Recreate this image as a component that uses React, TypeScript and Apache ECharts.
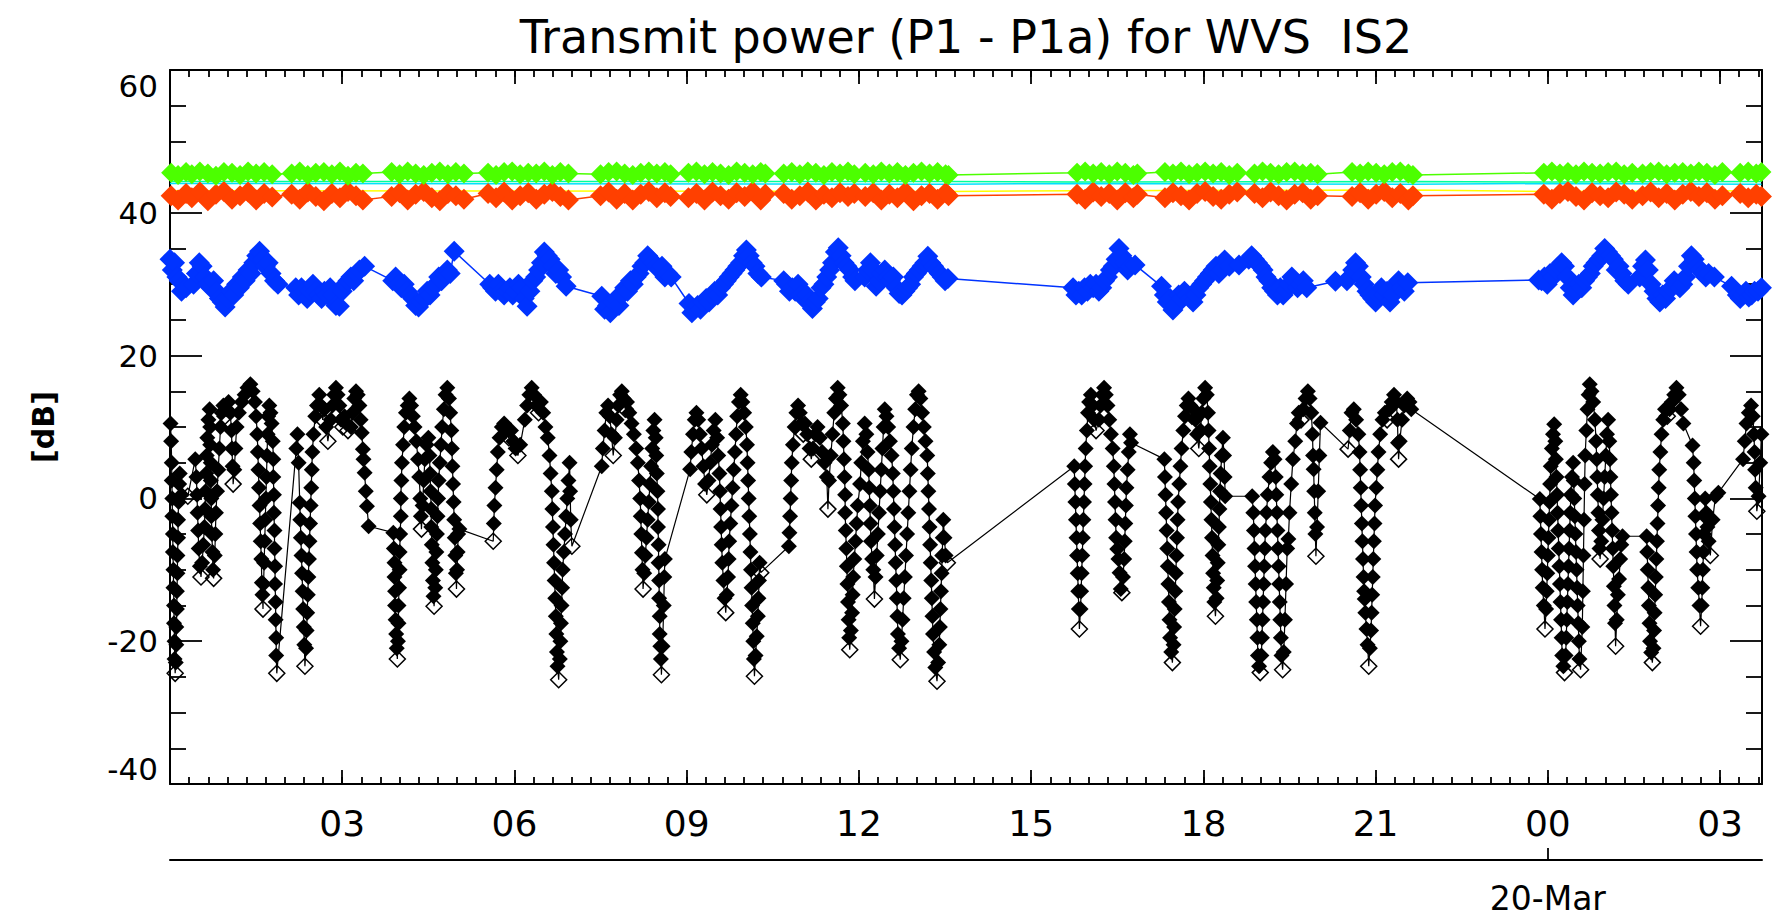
import React, { useEffect, useRef } from "react";
import * as echarts from "echarts";

// ---------- texts ----------
const TITLE = "Transmit power (P1 - P1a) for WVS  IS2";
const Y_NAME = "[dB]";
const DATE_LABEL = "20-Mar";

// ---------- axes (x in hours since 19-Mar 00:00) ----------
const X_MAX_H = 27.73;
const X_MAJOR_H = 3;
const X_MINOR_MIN = 20;
const DATE_TICK_H = 24;
const Y_MIN = -40;
const Y_MAX = 60;
const Y_STEP = 20;

// ---------- colours ----------
const C_BLACK = "#000000";
const C_BLUE = "#0033ff";
const C_GREEN = "#4cff00";
const C_RED = "#ff4000";
const C_YELLOW = "#ffff00";
const C_CYAN = "#00e0ff";
const C_MINT = "#00ff99";

// ---------- upper bands: shared sample times (h) ----------
const bandTimes = [
  0.02, 0.14, 0.28,
  0.38, 0.52, 0.66, 0.8, 0.94, 1.08, 1.22, 1.36, 1.5, 1.64, 1.78,
  2.12, 2.26, 2.4, 2.54, 2.68, 2.82, 2.96, 3.1, 3.24, 3.36,
  3.86, 4.0, 4.14, 4.28, 4.42, 4.56, 4.7, 4.84, 4.98, 5.12,
  5.54, 5.68, 5.82, 5.96, 6.1, 6.24, 6.38, 6.52, 6.66, 6.8, 6.94,
  7.5, 7.64, 7.78, 7.92, 8.06, 8.2, 8.34, 8.48, 8.62, 8.72,
  9.03, 9.17, 9.31, 9.45, 9.59, 9.73, 9.87, 10.01, 10.15, 10.29, 10.37,
  10.69, 10.83, 10.97, 11.11, 11.25, 11.39, 11.53, 11.67, 11.81, 11.92,
  12.11, 12.25, 12.39, 12.53, 12.67, 12.81, 12.95, 13.09, 13.23, 13.37, 13.51, 13.56,
  15.8, 15.94, 16.08, 16.22, 16.36, 16.5, 16.64, 16.78, 16.85,
  17.33, 17.47, 17.61, 17.75, 17.89, 18.03, 18.17, 18.31, 18.45, 18.59,
  18.89, 19.03, 19.17, 19.31, 19.45, 19.59, 19.73, 19.87, 19.99,
  20.59, 20.73, 20.87, 21.01, 21.15, 21.29, 21.43, 21.57, 21.65,
  23.93, 24.07, 24.21, 24.35, 24.49, 24.63, 24.77, 24.91, 25.05, 25.19, 25.33, 25.47,
  25.65, 25.79, 25.93, 26.07, 26.21, 26.35, 26.49, 26.63, 26.77, 26.91, 27.04,
  27.35, 27.49, 27.63, 27.72,
];

const greenVals = [
  45.6, 45.3, 45.7,
  45.4, 45.8, 45.5, 45.2, 45.7, 45.6, 45.3, 45.8, 45.5, 45.7, 45.4,
  45.5, 45.8, 45.3, 45.6, 45.7, 45.4, 45.8, 45.2, 45.6, 45.5,
  45.7, 45.4, 45.8, 45.5, 45.3, 45.6, 45.8, 45.4, 45.7, 45.5,
  45.6, 45.3, 45.7, 45.8, 45.4, 45.6, 45.5, 45.8, 45.3, 45.7, 45.5,
  45.4, 45.7, 45.8, 45.5, 45.3, 45.6, 45.8, 45.5, 45.7, 45.4,
  45.6, 45.8, 45.4, 45.7, 45.5, 45.3, 45.8, 45.6, 45.4, 45.7, 45.5,
  45.5, 45.7, 45.4, 45.8, 45.6, 45.3, 45.7, 45.5, 45.8, 45.4,
  45.6, 45.4, 45.8, 45.5, 45.7, 45.3, 45.6, 45.8, 45.5, 45.7, 45.4, 45.3,
  45.6, 45.8, 45.5, 45.7, 45.4, 45.8, 45.6, 45.3, 45.5,
  45.7, 45.5, 45.8, 45.4, 45.6, 45.8, 45.5, 45.7, 45.3, 45.6,
  45.5, 45.8, 45.6, 45.4, 45.7, 45.8, 45.5, 45.6, 45.4,
  45.7, 45.5, 45.8, 45.6, 45.4, 45.7, 45.8, 45.5, 45.3,
  45.6, 45.8, 45.5, 45.7, 45.4, 45.8, 45.6, 45.5, 45.7, 45.8, 45.4, 45.6,
  45.5, 45.7, 45.8, 45.4, 45.6, 45.7, 45.5, 45.8, 45.6, 45.3, 45.7,
  45.6, 45.8, 45.5, 45.7,
];

const redVals = [
  42.4, 41.8, 42.7,
  42.1, 42.9, 41.7, 42.6, 43.0, 41.9, 42.4, 42.9, 41.8, 42.7, 42.2,
  42.6, 41.9, 42.9, 42.3, 41.7, 42.7, 42.1, 43.0, 42.4, 41.8,
  42.3, 42.8, 41.8, 42.6, 43.0, 42.1, 41.7, 42.7, 42.4, 41.9,
  42.7, 42.1, 42.9, 41.8, 42.4, 42.8, 41.9, 42.6, 43.0, 42.3, 41.8,
  42.4, 42.9, 41.9, 42.7, 41.8, 42.6, 43.0, 42.1, 42.8, 42.3,
  42.1, 42.7, 41.8, 42.9, 42.4, 41.9, 42.8, 42.3, 43.0, 41.8, 42.6,
  42.7, 41.9, 42.4, 42.9, 41.8, 42.6, 42.1, 42.8, 42.3, 42.7,
  42.3, 42.8, 41.8, 42.6, 42.1, 42.9, 41.7, 42.4, 42.7, 41.9, 42.8, 42.4,
  42.6, 41.9, 42.9, 42.3, 42.7, 41.8, 42.8, 42.1, 42.6,
  42.1, 42.8, 42.4, 41.8, 42.7, 43.0, 42.3, 41.9, 42.6, 42.9,
  42.7, 42.1, 42.9, 42.4, 41.8, 42.6, 42.8, 41.9, 42.4,
  42.3, 42.8, 41.9, 42.6, 43.0, 42.1, 42.7, 41.8, 42.4,
  42.6, 41.9, 42.7, 43.0, 42.3, 41.8, 42.8, 42.4, 42.1, 42.9, 42.6, 41.9,
  42.4, 42.9, 42.1, 42.7, 41.8, 42.6, 43.0, 42.3, 42.8, 41.9, 42.4,
  42.7, 42.1, 42.6, 42.3,
];

// thin lines between the bands (markers hidden under the bands)
const cyanPts = [[0, 44.1], [13.56, 44.0], [15.8, 44.1], [21.65, 44.0], [23.93, 44.1], [27.72, 44.0]];
const mintPts = [[0, 44.4], [13.56, 44.4], [15.8, 44.3], [21.65, 44.4], [23.93, 44.3], [27.72, 44.4]];
const yellowPts = [[0, 43.1], [13.56, 43.0], [15.8, 43.1], [21.65, 43.2], [23.93, 43.0], [27.72, 43.1]];

// ---------- blue series [h, dB] ----------
const bluePts = [
  [0.0, 33.5], [0.04, 32], [0.08, 33], [0.12, 31], [0.16, 30.5], [0.2, 29], [0.24, 30], [0.28, 29.5],
  [0.41, 30], [0.46, 31.5], [0.51, 33], [0.56, 32.5], [0.61, 31], [0.66, 30], [0.71, 29.5], [0.76, 30.5], [0.81, 29], [0.86, 28], [0.91, 27.5], [0.96, 26.8], [1.01, 28], [1.06, 29], [1.11, 28.5], [1.16, 30], [1.21, 29.5], [1.26, 31], [1.31, 30.5], [1.36, 32], [1.41, 31.5], [1.46, 33], [1.51, 34], [1.56, 34.6], [1.61, 33.5], [1.66, 32.5], [1.71, 33], [1.76, 31.5], [1.82, 30.5], [1.88, 30],
  [2.19, 29.5], [2.24, 28.5], [2.29, 29.5], [2.34, 29], [2.39, 28], [2.44, 29], [2.49, 30], [2.54, 29], [2.59, 28.5], [2.64, 28], [2.69, 29], [2.74, 28.5], [2.79, 29.5], [2.84, 28.5], [2.89, 27], [2.95, 26.9], [3.0, 29], [3.05, 30], [3.1, 30.5], [3.15, 31], [3.2, 30.5], [3.25, 31.5], [3.3, 32], [3.39, 32.5],
  [3.88, 30.5], [3.93, 31], [3.98, 30], [4.03, 29.5], [4.08, 30], [4.13, 29], [4.18, 28.5], [4.23, 28], [4.28, 27], [4.33, 26.8], [4.38, 27.5], [4.43, 28], [4.48, 29], [4.53, 28.5], [4.58, 29.5], [4.63, 30], [4.68, 31], [4.73, 30.5], [4.78, 31.5], [4.83, 32], [4.88, 31.5], [4.95, 34.6],
  [5.57, 30], [5.62, 29.5], [5.67, 29], [5.72, 30], [5.77, 29], [5.82, 28.5], [5.87, 29], [5.92, 29.5], [5.97, 28.5], [6.02, 29], [6.07, 30], [6.12, 29.5], [6.17, 28], [6.22, 26.9], [6.27, 29], [6.32, 30.5], [6.37, 31], [6.42, 32], [6.47, 33], [6.52, 34.5], [6.57, 34], [6.62, 33.5], [6.67, 32.5], [6.72, 31.5], [6.77, 32], [6.82, 31], [6.9, 29.7],
  [7.52, 28.3], [7.57, 26.5], [7.62, 27], [7.67, 26], [7.72, 27.5], [7.77, 28], [7.82, 27], [7.87, 28.5], [7.92, 29.5], [7.97, 29], [8.02, 30.5], [8.07, 30], [8.12, 31], [8.17, 31.5], [8.22, 32.5], [8.27, 33], [8.32, 34], [8.37, 33.5], [8.42, 33], [8.47, 32.5], [8.52, 32], [8.57, 32.5], [8.62, 31], [8.67, 31.5], [8.73, 31],
  [9.04, 27.3], [9.09, 26], [9.14, 26.5], [9.19, 27], [9.24, 26.5], [9.29, 27.5], [9.34, 28], [9.39, 27.5], [9.44, 28.5], [9.49, 29], [9.54, 28.5], [9.59, 29.5], [9.64, 30], [9.69, 30.5], [9.74, 31], [9.79, 31.5], [9.84, 32], [9.89, 32.5], [9.94, 33], [9.99, 34], [10.04, 34.8], [10.09, 34], [10.14, 33], [10.19, 32.5], [10.24, 31.5], [10.3, 31],
  [10.69, 30.5], [10.74, 30], [10.79, 29], [10.84, 29.5], [10.89, 29], [10.94, 30], [10.99, 28.5], [11.04, 28], [11.09, 28.5], [11.14, 27.5], [11.19, 26.6], [11.24, 27.5], [11.29, 28], [11.34, 29.5], [11.39, 30], [11.44, 31], [11.49, 32], [11.54, 33], [11.59, 34.5], [11.64, 35.1], [11.69, 34], [11.74, 33], [11.79, 32.5], [11.84, 32], [11.89, 31], [11.93, 30.5],
  [12.1, 31], [12.15, 32], [12.2, 33], [12.25, 32], [12.3, 29.7], [12.35, 30.5], [12.4, 31.5], [12.45, 32], [12.5, 31], [12.55, 30.5], [12.6, 31], [12.65, 29.5], [12.7, 28.7], [12.75, 28.5], [12.8, 29], [12.85, 29.5], [12.9, 30], [12.95, 31], [13.0, 31.5], [13.05, 32], [13.1, 32.5], [13.15, 33], [13.2, 33.9], [13.25, 33], [13.3, 32.5], [13.35, 32], [13.4, 31.5], [13.45, 31], [13.5, 30.5], [13.55, 30.8],
  [15.73, 29.5], [15.78, 28.5], [15.83, 29], [15.88, 28.5], [15.93, 29.5], [15.98, 29], [16.03, 30], [16.08, 29.5], [16.13, 30], [16.18, 29], [16.23, 29.5], [16.28, 30.5], [16.33, 31], [16.38, 32], [16.43, 32.5], [16.48, 33.5], [16.53, 35], [16.58, 34], [16.63, 33], [16.68, 32], [16.73, 32.5], [16.81, 32.7],
  [17.27, 29.7], [17.32, 28.5], [17.37, 27.5], [17.42, 28], [17.47, 26.4], [17.52, 27], [17.57, 28.5], [17.62, 28], [17.67, 29], [17.72, 28.5], [17.77, 28], [17.82, 27.5], [17.87, 28.5], [17.92, 29.5], [17.97, 30], [18.02, 30.5], [18.07, 31], [18.12, 31.5], [18.17, 32], [18.22, 32.5], [18.27, 31.5], [18.32, 32], [18.37, 33.4], [18.45, 32.5],
  [18.62, 32.7], [18.79, 33.5], [18.84, 34], [18.89, 33.5], [18.94, 33], [18.99, 32.5], [19.04, 32], [19.09, 31], [19.14, 30.5], [19.19, 29.5], [19.24, 29], [19.29, 28.5], [19.34, 29.5], [19.39, 28.5], [19.44, 29.2], [19.49, 30], [19.54, 31], [19.59, 30.5], [19.64, 29.5], [19.69, 30], [19.74, 30.5], [19.8, 29.5],
  [20.3, 30.4], [20.5, 30.5], [20.55, 31], [20.6, 32], [20.65, 33], [20.7, 32.5], [20.75, 31], [20.8, 30], [20.85, 29], [20.9, 28.5], [20.95, 28], [21.0, 27.5], [21.05, 28.5], [21.1, 29.5], [21.15, 28.5], [21.2, 29], [21.25, 27.5], [21.3, 28.5], [21.35, 30], [21.4, 30.5], [21.45, 29.5], [21.5, 29], [21.56, 30.2],
  [23.84, 30.6], [23.89, 30.5], [23.94, 31], [23.99, 30], [24.04, 31.5], [24.09, 31], [24.14, 32], [24.19, 32.5], [24.24, 33], [24.29, 32.5], [24.34, 31], [24.39, 29.5], [24.44, 28.5], [24.49, 29], [24.54, 30], [24.59, 29.5], [24.64, 30.5], [24.69, 31], [24.74, 31.5], [24.79, 32.5], [24.84, 33], [24.89, 33.5], [24.94, 34], [24.99, 35], [25.04, 34.5], [25.09, 34], [25.14, 33.5], [25.19, 32], [25.24, 32.5], [25.29, 31.5], [25.34, 30.5], [25.4, 30],
  [25.6, 31], [25.65, 32.5], [25.7, 33.4], [25.75, 32], [25.8, 30], [25.85, 29], [25.9, 28], [25.95, 27.5], [26.0, 28.5], [26.05, 28], [26.1, 29], [26.15, 29.5], [26.2, 30.5], [26.25, 30], [26.3, 29.5], [26.35, 30], [26.4, 31], [26.45, 32.5], [26.5, 34], [26.55, 33.5], [26.6, 32.5], [26.65, 32], [26.7, 31.5], [26.75, 31], [26.8, 31.5], [26.9, 31],
  [27.2, 29.7], [27.3, 28.5], [27.35, 28], [27.4, 28.5], [27.45, 29], [27.5, 28.2], [27.55, 28.5], [27.6, 29], [27.66, 29], [27.72, 29.5],
];

// ---------- black series [h, dB] ----------
const blackPts = [
  [0.01, 10.5], [0.02, 8], [0.03, 5], [0.03, 2.5], [0.04, 0], [0.04, -2.5], [0.05, -5], [0.05, -7.5], [0.06, -10], [0.06, -12.5], [0.07, -15], [0.07, -17.5], [0.08, -20], [0.08, -22.5], [0.09, -24.5], [0.1, -23], [0.11, -20.5], [0.11, -18], [0.12, -15.5], [0.12, -13], [0.13, -10.5], [0.13, -8], [0.14, -5.5], [0.14, -3], [0.15, -0.5], [0.16, 2], [0.17, 3.5], [0.2, 0.5], [0.31, 0.3],
  [0.44, 5.5], [0.46, 3], [0.47, 0.5], [0.48, -2], [0.49, -4.5], [0.5, -7], [0.52, -9.5], [0.54, -11], [0.56, -9], [0.58, -6.5], [0.6, -4], [0.61, -1.5], [0.62, 1], [0.63, 3.5], [0.64, 6], [0.65, 8.5], [0.67, 11], [0.69, 12.5], [0.7, 10], [0.7, 7.5], [0.71, 5], [0.71, 2.5], [0.72, 0], [0.72, -2.5], [0.73, -5], [0.74, -7.5], [0.75, -10], [0.76, -11.2], [0.78, -8], [0.79, -5], [0.8, -2], [0.82, 1], [0.84, 4], [0.86, 7], [0.88, 10], [0.9, 12], [0.93, 13], [0.96, 11.5], [0.99, 12.5], [1.02, 13.5], [1.05, 12], [1.07, 9.5], [1.08, 7], [1.09, 4.5], [1.1, 2], [1.12, 4], [1.14, 7],
  [1.16, 10], [1.2, 12], [1.25, 13.5], [1.3, 14.5], [1.35, 15.5], [1.4, 16], [1.44, 15], [1.48, 13.5], [1.5, 11.5], [1.52, 9], [1.53, 6.5], [1.54, 4], [1.55, 1.5], [1.56, -1], [1.57, -3.5], [1.58, -6], [1.59, -8.5], [1.6, -11.8], [1.61, -13.5], [1.62, -15.5], [1.63, -12], [1.64, -9], [1.65, -6], [1.66, -3], [1.67, 0], [1.68, 3], [1.69, 6], [1.7, 9], [1.71, 11.5], [1.73, 13], [1.75, 12], [1.77, 10.5], [1.79, 8], [1.8, 5.5], [1.8, 3], [1.81, 0.5], [1.81, -2], [1.82, -4.5], [1.82, -7], [1.83, -9.5], [1.83, -12], [1.84, -14.5], [1.84, -17], [1.85, -19.5], [1.85, -22], [1.86, -24.5],
  [2.2, 7], [2.22, 9], [2.24, 5], [2.26, -0.6], [2.27, -3], [2.28, -5.5], [2.29, -8], [2.3, -10.5], [2.31, -13], [2.32, -15.5], [2.33, -18], [2.34, -20.5], [2.35, -23.5], [2.37, -21], [2.38, -18.5], [2.39, -16], [2.4, -13.5], [2.41, -11], [2.42, -8.5], [2.43, -6], [2.44, -3.5], [2.45, -1], [2.46, 1.5], [2.47, 4], [2.48, 6.5], [2.5, 9], [2.53, 11.5], [2.56, 13], [2.6, 14.5], [2.63, 13], [2.66, 11], [2.69, 12.5], [2.72, 10], [2.75, 8],
  [2.8, 11], [2.83, 13], [2.86, 14.5], [2.89, 15.5], [2.92, 14.5], [2.95, 13], [2.98, 11], [3.01, 10], [3.04, 11.5], [3.07, 10.5], [3.1, 9.5],
  [3.15, 10], [3.18, 12], [3.21, 14], [3.24, 15], [3.27, 14.5], [3.3, 13], [3.32, 11], [3.34, 9.2], [3.36, 6.9], [3.37, 5.5], [3.39, 3.6], [3.41, 1], [3.43, -1.1], [3.46, -3.9],
  [3.89, -4.8], [3.9, -7], [3.91, -9], [3.91, -11], [3.92, -13], [3.92, -15], [3.93, -17], [3.94, -19], [3.95, -21], [3.96, -22.5], [3.97, -20], [3.98, -17.5], [3.98, -15], [3.99, -12.5], [4.0, -10], [4.0, -7.5], [4.01, -5], [4.02, -2.5], [4.02, 0], [4.03, 2.5], [4.04, 5], [4.06, 7.5], [4.08, 10], [4.11, 12], [4.14, 13], [4.17, 14], [4.2, 13], [4.23, 11.5], [4.26, 10], [4.29, 8],
  [4.32, 5.5], [4.34, 3], [4.36, 0], [4.37, -2.5], [4.38, -4.3], [4.4, -1], [4.42, 2.5], [4.44, 5.5], [4.47, 7.5], [4.5, 8.5], [4.52, 6], [4.53, 3.5], [4.54, 1], [4.55, -1.5], [4.55, -4], [4.56, -6.5], [4.57, -9], [4.58, -11.5], [4.59, -13.7], [4.6, -15.1], [4.62, -12.5], [4.63, -10], [4.64, -7.5], [4.65, -5], [4.66, -2.5], [4.67, 0], [4.68, 2.5], [4.7, 5], [4.72, 7.5],
  [4.74, 10], [4.77, 12.5], [4.8, 14.5], [4.83, 15.5], [4.86, 14], [4.88, 12], [4.9, 9.5], [4.91, 7], [4.92, 4.5], [4.93, 2], [4.94, -0.5], [4.95, -3], [4.96, -5.5], [4.97, -8], [4.98, -10.5], [4.99, -12.7], [5.0, -10], [5.01, -7.5], [5.02, -5], [5.04, -4.3],
  [5.63, -6], [5.64, -3.5], [5.65, -1], [5.67, 1.5], [5.69, 4], [5.71, 6.5], [5.74, 8.5], [5.78, 10], [5.82, 10.5], [5.86, 9.5], [5.9, 8.5], [5.94, 9.5], [5.98, 8], [6.02, 7], [6.06, 6], [6.1, 7.5],
  [6.18, 11], [6.22, 13], [6.26, 14.5], [6.3, 15.5], [6.34, 14.5], [6.38, 13], [6.42, 12], [6.46, 13.5], [6.5, 12], [6.54, 10], [6.58, 8.5], [6.61, 6], [6.63, 3.5], [6.65, 1], [6.66, -1.5], [6.67, -4], [6.68, -6.5], [6.69, -9], [6.7, -11.5], [6.71, -14], [6.72, -16.5], [6.73, -19], [6.74, -21.5], [6.75, -23.5], [6.77, -25.4], [6.79, -22.5], [6.8, -20], [6.81, -17.5], [6.82, -15], [6.83, -12.5], [6.84, -10], [6.86, -7.5], [6.88, -5], [6.9, -2.5], [6.92, 0], [6.94, 2.5], [6.96, 5], [6.97, 1], [6.98, -3], [7.0, -6.7],
  [7.52, 4.5], [7.54, 7], [7.57, 9.5], [7.6, 12], [7.63, 13], [7.66, 11.5], [7.69, 9], [7.72, 6], [7.75, 8.5], [7.78, 11], [7.81, 13], [7.84, 14.5], [7.87, 15], [7.9, 14], [7.93, 12.5], [7.96, 13.5], [8.0, 12], [8.04, 10.5], [8.08, 9], [8.12, 7], [8.15, 5], [8.17, 2.5], [8.19, 0], [8.2, -2.5], [8.21, -5], [8.22, -7.6], [8.23, -10], [8.24, -12.7], [8.26, -10.5], [8.28, -8], [8.3, -5.5], [8.32, -3], [8.34, -0.5], [8.36, 2], [8.38, 4.5], [8.4, 7], [8.42, 9.5], [8.44, 11], [8.46, 8.5], [8.47, 6], [8.48, 3.5], [8.49, 1], [8.5, -1.5], [8.5, -4], [8.51, -6.5], [8.51, -9], [8.52, -11.5], [8.52, -14], [8.53, -16.5], [8.53, -19], [8.54, -20.7], [8.55, -22.5], [8.56, -24.7], [8.58, -20.7], [8.6, -15], [8.61, -11], [8.62, -8.5],
  [9.06, 4.1], [9.08, 6.5], [9.11, 9], [9.14, 11], [9.17, 12], [9.2, 11], [9.23, 9], [9.26, 7], [9.29, 4.5], [9.32, 2], [9.35, 0.5], [9.38, 2.5], [9.41, 5], [9.44, 7.5], [9.47, 9.5], [9.5, 11], [9.53, 8.5], [9.55, 6], [9.57, 3.5], [9.58, 1], [9.59, -1.5], [9.6, -4], [9.61, -6.5], [9.62, -9], [9.64, -11.5], [9.66, -14], [9.68, -16], [9.7, -13.5], [9.72, -11], [9.73, -8.5], [9.74, -6], [9.76, -3.5], [9.78, -1], [9.8, 1.5], [9.82, 4], [9.84, 6.5], [9.86, 9], [9.88, 11.5], [9.91, 13.5], [9.94, 14.5], [9.97, 13.5], [10.0, 12], [10.03, 10], [10.05, 7.5], [10.06, 5], [10.07, 2.5], [10.08, 0], [10.09, -2.5], [10.1, -5], [10.11, -7.5], [10.12, -10], [10.13, -12.5], [10.14, -15], [10.15, -17.5], [10.16, -20], [10.17, -22.5], [10.18, -24.9], [10.2, -22], [10.22, -19.3], [10.24, -16.5], [10.25, -14], [10.26, -11.5], [10.27, -9], [10.29, -10.4],
  [10.78, -6.7], [10.79, -4.8], [10.8, -2.5], [10.81, 0], [10.82, 2.5], [10.83, 5], [10.85, 7.5], [10.88, 10], [10.91, 12], [10.94, 13], [10.97, 12], [11.0, 10.5], [11.03, 9], [11.06, 10.5], [11.1, 9], [11.14, 7], [11.17, 5.5], [11.2, 7], [11.24, 9], [11.28, 10], [11.32, 8.5], [11.36, 6.5], [11.4, 5], [11.44, 3], [11.46, -1.5], [11.48, 2.5], [11.51, 6], [11.54, 9], [11.57, 12], [11.6, 14], [11.63, 15.5], [11.66, 14.5], [11.69, 13], [11.72, 10.5], [11.73, 8], [11.74, 5.5], [11.75, 3], [11.76, 0.5], [11.76, -2], [11.77, -4.5], [11.78, -7], [11.79, -9.5], [11.8, -12], [11.81, -14.5], [11.82, -17], [11.83, -19.5], [11.84, -21.2], [11.86, -18.5], [11.88, -16], [11.89, -13.5], [11.9, -11], [11.92, -8.5], [11.94, -6], [11.96, -3.5], [11.98, -1],
  [12.02, 2], [12.04, 5], [12.07, 8], [12.1, 10.5], [12.13, 9], [12.15, 6.5], [12.17, 4], [12.18, 1.5], [12.19, -1], [12.2, -3.5], [12.21, -6], [12.23, -8.5], [12.25, -10], [12.27, -14.1], [12.29, -11], [12.31, -8], [12.33, -5], [12.35, -2], [12.37, 1], [12.39, 4], [12.41, 7], [12.43, 10], [12.45, 12.5], [12.48, 11.5], [12.51, 10], [12.54, 8], [12.57, 6], [12.59, 3.5], [12.6, 1], [12.61, -1.5], [12.62, -4], [12.63, -6.5], [12.64, -9], [12.65, -11.5], [12.66, -14], [12.67, -16.5], [12.68, -19], [12.7, -21], [12.72, -22.6], [12.74, -20], [12.76, -17], [12.78, -14], [12.8, -11], [12.82, -8], [12.84, -5], [12.86, -2], [12.88, 1], [12.9, 4],
  [12.92, 7], [12.95, 10], [12.98, 12.5], [13.01, 14.5], [13.04, 15], [13.07, 14], [13.1, 12], [13.13, 10], [13.16, 8], [13.19, 6], [13.2, 3.5], [13.21, 1], [13.22, -1.5], [13.23, -4], [13.24, -6.5], [13.25, -9], [13.26, -11.5], [13.27, -14], [13.28, -16.5], [13.29, -19], [13.31, -21.5], [13.33, -23.7], [13.36, -25.6], [13.38, -23], [13.4, -20.5], [13.41, -18], [13.42, -15.5], [13.43, -13], [13.44, -10.5], [13.45, -8], [13.46, -5.5], [13.47, -3], [13.49, -5.5], [13.51, -8], [13.54, -9],
  [15.75, 4.5], [15.76, 2], [15.77, -0.5], [15.78, -3], [15.79, -5.5], [15.8, -8], [15.81, -10.5], [15.82, -13], [15.83, -15.5], [15.84, -18.3], [15.86, -15.5], [15.87, -13], [15.88, -10.5], [15.89, -8], [15.9, -5.5], [15.91, -3], [15.92, -0.5], [15.93, 2], [15.94, 4.5], [15.95, 7], [15.97, 9.5], [15.99, 12], [16.01, 13.5], [16.04, 14.5], [16.07, 13], [16.1, 11], [16.13, 9.5],
  [16.18, 11], [16.21, 13], [16.24, 14.5], [16.27, 15.5], [16.3, 14.5], [16.33, 13], [16.36, 11], [16.39, 9], [16.42, 7], [16.44, 4.5], [16.45, 2], [16.46, -0.5], [16.47, -3], [16.48, -5.5], [16.5, -7.1], [16.52, -8.5], [16.54, -10.4], [16.56, -12.7], [16.58, -13.2], [16.6, -11], [16.62, -8.5], [16.63, -6], [16.64, -3.5], [16.65, -1], [16.66, 1.5], [16.68, 4], [16.7, 6.5], [16.72, 9], [16.74, 7.8],
  [17.32, 5.5], [17.33, 3], [17.34, 0.5], [17.35, -2], [17.36, -4.5], [17.37, -7], [17.38, -9.5], [17.39, -12], [17.4, -14.5], [17.41, -17], [17.42, -19.5], [17.44, -21.5], [17.46, -23], [17.48, -20.5], [17.49, -18], [17.5, -15.5], [17.51, -13], [17.52, -10.5], [17.53, -8], [17.54, -5.5], [17.55, -3], [17.56, -0.5], [17.58, 2], [17.6, 4.5], [17.62, 7], [17.65, 9.5], [17.68, 11.5], [17.71, 13], [17.74, 14], [17.77, 13], [17.8, 11.5], [17.83, 12.5], [17.86, 11], [17.89, 9], [17.92, 7],
  [17.95, 9.5], [17.97, 12], [18.0, 14], [18.03, 15.5], [18.06, 14.5], [18.08, 12], [18.09, 9.5], [18.1, 7], [18.11, 4.5], [18.12, 2], [18.13, -0.5], [18.14, -3], [18.15, -5.5], [18.16, -8], [18.17, -10.5], [18.18, -12.5], [18.19, -14.5], [18.21, -16.5], [18.23, -14], [18.24, -11.5], [18.25, -9], [18.26, -6.5], [18.27, -4], [18.28, -1.5], [18.29, 1], [18.3, 3.5], [18.32, 6], [18.34, 8.5], [18.36, 6], [18.37, 3], [18.38, 0.3],
  [18.85, 0.3], [18.87, -2], [18.88, -4.5], [18.89, -7], [18.9, -9.5], [18.91, -12], [18.92, -14.5], [18.93, -17], [18.94, -19.5], [18.95, -22], [18.97, -23.5], [18.99, -24.4], [19.01, -22], [19.02, -19.5], [19.03, -17], [19.04, -14.5], [19.05, -12], [19.06, -9.5], [19.07, -7], [19.08, -4.5], [19.1, -2], [19.12, 0.5], [19.15, 3], [19.18, 5], [19.21, 6.5], [19.24, 5.5], [19.26, 3], [19.27, 0.5], [19.28, -2], [19.29, -4.5], [19.3, -7], [19.31, -9.5], [19.32, -12], [19.33, -14.5], [19.34, -17], [19.35, -19.5], [19.36, -22], [19.38, -24], [19.4, -21.5], [19.42, -17], [19.44, -12], [19.46, -7], [19.48, -5.7], [19.5, -2], [19.53, 2], [19.56, 5.5],
  [19.6, 8], [19.63, 10.5], [19.66, 12], [19.7, 11], [19.74, 12.5], [19.78, 14], [19.82, 15], [19.85, 14], [19.88, 12], [19.9, 9], [19.91, 6], [19.92, 4.1], [19.93, 1], [19.94, -2], [19.95, -5], [19.96, -8.1], [19.98, -4], [20.0, 1], [20.02, 6], [20.04, 10.6],
  [20.52, 6.9], [20.55, 9.5], [20.58, 12], [20.62, 12.5], [20.66, 11], [20.7, 9], [20.72, 6.5], [20.73, 4], [20.74, 1.5], [20.75, -1], [20.76, -3.5], [20.77, -6], [20.78, -8.5], [20.79, -11], [20.8, -13], [20.81, -14.1], [20.82, -16], [20.84, -18.3], [20.86, -20.5], [20.88, -23.5], [20.9, -21], [20.92, -18.5], [20.93, -16], [20.94, -13.5], [20.95, -11], [20.96, -8.5], [20.97, -6], [20.98, -3.5], [20.99, -1], [21.01, 1.5], [21.03, 4], [21.05, 6.5], [21.08, 9], [21.12, 11], [21.16, 12], [21.2, 11], [21.24, 12.5], [21.28, 13.5], [21.32, 14.5], [21.36, 13.5], [21.38, 11], [21.39, 7.8], [21.4, 5.5], [21.42, 8], [21.46, 11], [21.5, 13], [21.55, 14], [21.59, 13.5], [21.62, 12.5],
  [23.86, -0.1], [23.87, -2.5], [23.88, -5], [23.89, -7.5], [23.9, -10], [23.91, -12.5], [23.93, -15], [23.95, -18.3], [23.97, -15.5], [23.98, -13], [23.99, -10.5], [24.0, -8], [24.01, -5.5], [24.02, -3], [24.03, -0.5], [24.04, 2], [24.05, 4.5], [24.07, 7], [24.09, 9], [24.11, 10.4], [24.13, 8], [24.14, 5.5], [24.15, 3], [24.16, 0.5], [24.17, -2], [24.18, -4.5], [24.19, -7], [24.2, -9.5], [24.21, -12], [24.22, -14.5], [24.23, -17], [24.24, -19.5], [24.25, -22], [24.27, -23.5], [24.29, -24.4], [24.31, -22], [24.32, -19.5], [24.33, -17], [24.34, -14.5], [24.35, -12], [24.36, -9.5], [24.37, -7], [24.38, -4.5], [24.39, -2], [24.4, 0.5], [24.42, 3], [24.44, 5], [24.45, 2.5], [24.46, 0], [24.47, -2.5], [24.48, -5], [24.49, -7.5], [24.5, -10], [24.51, -12.5], [24.52, -15], [24.53, -17.5], [24.54, -20], [24.55, -22.5], [24.57, -24],
  [24.6, -18], [24.61, -13], [24.62, -8], [24.63, -3], [24.64, 2], [24.65, 6], [24.67, 9.5], [24.69, 12.5], [24.71, 14.5], [24.73, 16], [24.76, 15], [24.79, 13.5], [24.82, 11], [24.84, 8], [24.85, 5.5], [24.86, 3], [24.87, 0.5], [24.88, -2], [24.89, -4.5], [24.9, -7], [24.91, -8.5], [24.93, -6], [24.95, -3], [24.97, 0], [24.99, 3], [25.01, 6], [25.03, 9], [25.05, 11], [25.07, 8], [25.08, 5.5], [25.09, 3], [25.1, 0.5], [25.11, -2], [25.12, -4.5], [25.13, -7], [25.14, -9.5], [25.15, -12.3], [25.16, -15], [25.17, -17.5], [25.18, -20.7], [25.2, -17], [25.22, -13.5], [25.24, -11.3], [25.26, -8.5], [25.28, -6.5], [25.3, -5.3],
  [25.72, -5.3], [25.73, -7.5], [25.74, -10], [25.75, -12.5], [25.76, -15], [25.77, -17.5], [25.78, -20], [25.8, -21.6], [25.82, -23], [25.84, -21], [25.85, -18.5], [25.86, -16], [25.87, -13.5], [25.88, -11], [25.89, -8.5], [25.9, -6], [25.91, -3.5], [25.92, -1], [25.93, 1.5], [25.94, 4], [25.96, 6.5], [25.98, 9], [26.01, 11], [26.04, 12.5], [26.08, 11.5], [26.12, 12.5], [26.16, 13.5], [26.2, 14.5], [26.24, 15.5], [26.28, 14.5], [26.32, 12.5], [26.36, 10.5],
  [26.52, 7.4], [26.54, 5], [26.55, 2.5], [26.56, 0], [26.57, -2.5], [26.58, -5], [26.59, -7.5], [26.6, -10], [26.62, -12.5], [26.64, -15], [26.66, -17.9], [26.68, -15], [26.69, -12.5], [26.7, -10], [26.71, -7.5], [26.72, -5], [26.73, -2.5], [26.74, 0], [26.76, -2], [26.78, -4], [26.8, -6], [26.83, -8], [26.87, -3], [26.92, 0.3], [26.97, 0.8],
  [27.4, 5.5], [27.43, 8], [27.46, 10.5], [27.5, 12], [27.54, 13], [27.57, 11.5], [27.59, 9], [27.6, 6.5], [27.61, 4], [27.62, 1.5], [27.64, -1.8], [27.67, 0.3], [27.7, 5], [27.72, 9],
];

const FONT = "DejaVu Sans";

function toMinutes(pts: number[][]) {
  return pts.map(([h, v]) => [h * 60, v]);
}

function pad2(n: number) {
  return (n < 10 ? "0" : "") + n;
}

export default function App() {
  const ref = useRef<HTMLDivElement>(null);

  useEffect(() => {
    if (!ref.current) return;
    const chart = echarts.init(ref.current, undefined, { renderer: "svg" });

    const xMax = X_MAX_H * 60;
    const majorMin = X_MAJOR_H * 60;
    const axisColor = "#000";

    const n = Math.min(bandTimes.length, greenVals.length, redVals.length);
    const greenData = [] as number[][];
    const redData = [] as number[][];
    for (let i = 0; i < n; i++) {
      greenData.push([bandTimes[i] * 60, greenVals[i]]);
      redData.push([bandTimes[i] * 60, redVals[i]]);
    }

    // black: dense samples look solid; isolated lower tips show as open diamonds
    const hollow = { color: "rgba(0,0,0,0)", borderColor: C_BLACK, borderWidth: 1.5 };
    const blackData = blackPts.map(([h, v], i) => {
      const prev = i > 0 ? blackPts[i - 1][1] : Infinity;
      const next = i < blackPts.length - 1 ? blackPts[i + 1][1] : Infinity;
      const tip = v < prev && v < next;
      return tip ? { value: [h * 60, v], itemStyle: hollow } : [h * 60, v];
    });

    const xBase = {
      type: "value",
      min: 0,
      max: xMax,
      gridIndex: 0,
      splitLine: { show: false },
      axisPointer: { show: false },
    };

    const hourLabel = (v: number) => {
      if (v === 0 || Math.abs(v % majorMin) > 1e-6) return "";
      return pad2(Math.round(v / 60) % 24);
    };

    const option = {
      animation: false,
      backgroundColor: "#ffffff",
      grid: { left: 170, right: 19, top: 70, bottom: 138, containLabel: false, outerBoundsMode: "none" },
      graphic: [
        {
          type: "text",
          x: 966,
          y: 37,
          style: {
            text: TITLE,
            textAlign: "center",
            textVerticalAlign: "middle",
            fontFamily: FONT,
            fontSize: 46,
            fill: "#000",
          },
        },
      ],
      xAxis: [
        {
          ...xBase,
          position: "bottom",
          interval: majorMin,
          axisLine: { show: true, onZero: false, lineStyle: { color: axisColor, width: 2 } },
          axisTick: { show: true, inside: true, length: 14, lineStyle: { color: axisColor, width: 1.8 } },
          axisLabel: { show: true, formatter: hourLabel, color: "#000", fontFamily: FONT, fontSize: 36, margin: 21, showMaxLabel: false },
        },
        {
          ...xBase,
          position: "bottom",
          interval: X_MINOR_MIN,
          axisLine: { show: false, onZero: false },
          axisTick: { show: true, inside: true, length: 7, lineStyle: { color: axisColor, width: 1.8 } },
          axisLabel: { show: false },
        },
        {
          ...xBase,
          position: "top",
          interval: majorMin,
          axisLine: { show: true, onZero: false, lineStyle: { color: axisColor, width: 2 } },
          axisTick: { show: true, inside: true, length: 14, lineStyle: { color: axisColor, width: 1.8 } },
          axisLabel: { show: false },
        },
        {
          ...xBase,
          position: "top",
          interval: X_MINOR_MIN,
          axisLine: { show: false, onZero: false },
          axisTick: { show: true, inside: true, length: 7, lineStyle: { color: axisColor, width: 1.8 } },
          axisLabel: { show: false },
        },
        {
          ...xBase,
          position: "bottom",
          offset: 76,
          interval: DATE_TICK_H * 60,
          axisLine: { show: true, onZero: false, lineStyle: { color: axisColor, width: 2 } },
          axisTick: { show: true, inside: true, length: 12, customValues: [DATE_TICK_H * 60], lineStyle: { color: axisColor, width: 1.8 } },
          axisLabel: {
            show: true,
            customValues: [DATE_TICK_H * 60],
            formatter: (v: number) => (Math.abs(v - DATE_TICK_H * 60) < 1e-6 ? DATE_LABEL : ""),
            color: "#000",
            fontFamily: FONT,
            fontSize: 33,
            margin: 22,
          },
        },
      ],
      yAxis: [
        {
          type: "value",
          position: "left",
          min: Y_MIN,
          max: Y_MAX,
          interval: Y_STEP,
          name: Y_NAME,
          nameLocation: "middle",
          nameRotate: 90,
          nameGap: 112,
          nameTextStyle: { color: "#000", fontFamily: FONT, fontSize: 30, fontWeight: "bold" },
          splitLine: { show: false },
          axisLine: { show: true, onZero: false, lineStyle: { color: axisColor, width: 2 } },
          axisTick: { show: true, inside: true, length: 32, lineStyle: { color: axisColor, width: 1.8 } },
          minorTick: { show: true, splitNumber: 4, length: 16, lineStyle: { color: axisColor, width: 1.8 } },
          axisLabel: {
            show: true,
            color: "#000",
            fontFamily: FONT,
            fontSize: 31,
            margin: 12,
            verticalAlignMinLabel: "bottom",
            verticalAlignMaxLabel: "top",
          },
        },
        {
          type: "value",
          position: "right",
          min: Y_MIN,
          max: Y_MAX,
          interval: Y_STEP,
          splitLine: { show: false },
          axisLine: { show: true, onZero: false, lineStyle: { color: axisColor, width: 2 } },
          axisTick: { show: true, inside: true, length: 32, lineStyle: { color: axisColor, width: 1.8 } },
          minorTick: { show: true, splitNumber: 4, length: 16, lineStyle: { color: axisColor, width: 1.8 } },
          axisLabel: { show: false },
        },
      ],
      series: [
        {
          type: "line",
          name: "black",
          data: blackData,
          symbol: "diamond",
          symbolSize: 16,
          showSymbol: true,
          itemStyle: { color: C_BLACK, borderWidth: 0 },
          lineStyle: { color: C_BLACK, width: 1.2 },
          emphasis: { disabled: true },
        },
        {
          type: "line",
          name: "blue",
          data: toMinutes(bluePts),
          symbol: "diamond",
          symbolSize: 21,
          itemStyle: { color: C_BLUE, borderWidth: 0 },
          lineStyle: { color: C_BLUE, width: 1.5 },
          emphasis: { disabled: true },
        },
        {
          type: "line",
          name: "yellow",
          data: toMinutes(yellowPts),
          showSymbol: false,
          lineStyle: { color: C_YELLOW, width: 1.5 },
          emphasis: { disabled: true },
        },
        {
          type: "line",
          name: "cyan",
          data: toMinutes(cyanPts),
          showSymbol: false,
          lineStyle: { color: C_CYAN, width: 1.5 },
          emphasis: { disabled: true },
        },
        {
          type: "line",
          name: "mint",
          data: toMinutes(mintPts),
          showSymbol: false,
          lineStyle: { color: C_MINT, width: 1.5 },
          emphasis: { disabled: true },
        },
        {
          type: "line",
          name: "red",
          data: redData,
          symbol: "diamond",
          symbolSize: 21,
          itemStyle: { color: C_RED, borderWidth: 0 },
          lineStyle: { color: C_RED, width: 1.5 },
          emphasis: { disabled: true },
        },
        {
          type: "line",
          name: "green",
          data: greenData,
          symbol: "diamond",
          symbolSize: 20,
          itemStyle: { color: C_GREEN, borderWidth: 0 },
          lineStyle: { color: C_GREEN, width: 1.5 },
          emphasis: { disabled: true },
        },
      ],
    };

    chart.setOption(option as any);
    return () => {
      chart.dispose();
    };
  }, []);

  return (
    <div
      ref={ref}
      style={{ position: "absolute", left: 0, top: 0, width: 1781, height: 922, background: "#fff" }}
    />
  );
}
